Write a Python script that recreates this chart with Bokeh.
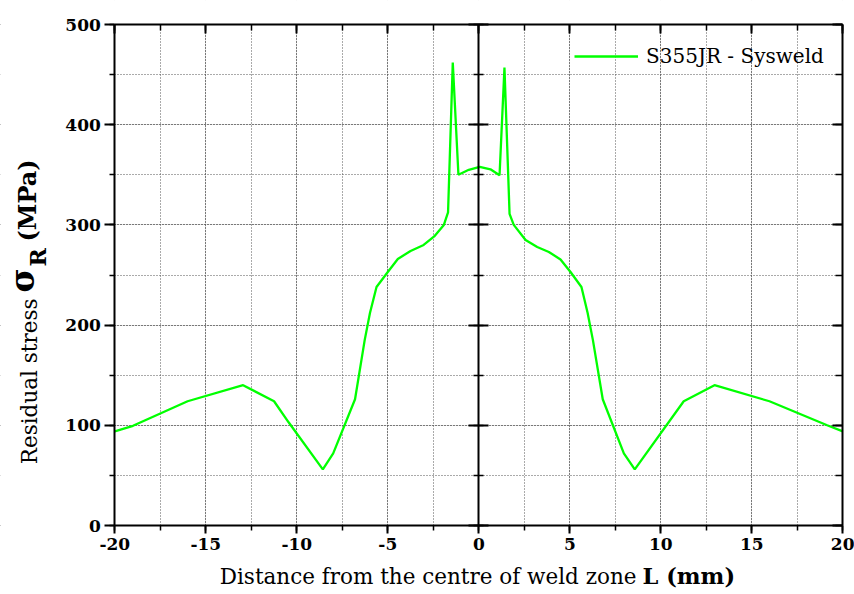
from bokeh.plotting import figure
from bokeh.models import (Range1d, LinearAxis, SingleIntervalTicker, Label, Grid,
                          CustomJSTickFormatter, BoxAnnotation)
from bokeh.embed import file_html
from bokeh.resources import INLINE
import math

# ---- data ----
distance_mm = [-20, -19, -16, -12.95, -11.25, -10.45, -8.57, -8.0, -6.8, -6.27,
               -5.98, -5.62, -5.0, -4.45, -3.75, -3.03, -2.45, -1.92, -1.69, -1.43,
               -1.12, -0.55, 0.05, 0.64, 1.14, 1.41, 1.69, 1.92, 2.57, 3.21,
               3.85, 4.49, 5.04, 5.64, 5.98, 6.27, 6.81, 7.97, 8.57, 11.26,
               12.95, 15.97, 19.14, 20]
stress_mpa = [94, 99.5, 124, 140, 124, 103, 56, 72, 126, 185,
              212, 238, 253, 266, 274, 280, 288.5, 300, 312.5, 462,
              350, 355, 358, 355.5, 349.5, 457, 311, 300, 285, 278,
              273, 265.5, 253, 238, 212, 185, 126, 72, 56, 124,
              140, 124, 100, 94]
x_limits = (-20, 20)
y_limits = (0, 500)
series_name = "S355JR - Sysweld"
x_label_normal = "Distance from the centre of weld zone"
x_label_bold = "L (mm)"
y_label_normal = "Residual stress"
y_label_sigma = "\u03c3"
y_label_sub = "R"
y_label_unit = "(MPa)"

SERIF = "DejaVu Serif"
W, H = 854, 594
# where the data box sits in the picture (pixels)
PX0, PX1 = 114.3, 842.3      # x = -20 .. 20
PY0, PY1 = 525.0, 24.0       # y = 0 .. 500

kx = (PX1 - PX0) / (x_limits[1] - x_limits[0])
ky = (PY0 - PY1) / (y_limits[1] - y_limits[0])

def dx(px):
    return x_limits[0] + (px - PX0) / kx

def dy(py):
    return y_limits[0] + (PY0 - py) / ky

p = figure(width=W, height=H, output_backend="svg", toolbar_location=None,
           x_range=Range1d(dx(0), dx(W)), y_range=Range1d(dy(H), dy(0)),
           min_border=0, x_axis_location=None, y_axis_location=None)
p.background_fill_color = "white"
p.border_fill_color = "white"
p.outline_line_color = None

xt = SingleIntervalTicker(interval=5, num_minor_ticks=2)
yt = SingleIntervalTicker(interval=100, num_minor_ticks=2)
plain_fmt = CustomJSTickFormatter(code="return String(tick);")
empty_fmt = CustomJSTickFormatter(code="return '';")

# dotted grid at major and minor ticks, inside the data box only
gx = Grid(dimension=0, ticker=xt, bounds=x_limits)
gy = Grid(dimension=1, ticker=yt, bounds=y_limits)
for g in (gx, gy):
    g.grid_line_color = "#555555"
    g.grid_line_dash = "1 2"
    g.grid_line_width = 1
    g.minor_grid_line_color = "#555555"
    g.minor_grid_line_dash = "1 2"
    g.minor_grid_line_width = 1
    p.add_layout(g)

# white masks outside the data box (hide grid overflow)
for kw in (dict(right=x_limits[0]), dict(left=x_limits[1]),
           dict(top=y_limits[0]), dict(bottom=y_limits[1])):
    p.add_layout(BoxAnnotation(fill_color="white", fill_alpha=1.0, line_color=None,
                               level="underlay", **kw))

def make_axis(ticker, show_labels, tin, tout, min_in, min_out, **kw):
    ax = LinearAxis(ticker=ticker, **kw)
    ax.axis_line_width = 2
    ax.axis_line_color = "black"
    ax.major_tick_line_width = 2
    ax.minor_tick_line_width = 1.5
    ax.major_tick_in = tin
    ax.major_tick_out = tout
    ax.minor_tick_in = min_in
    ax.minor_tick_out = min_out
    if show_labels:
        ax.formatter = plain_fmt
        ax.major_label_text_font = SERIF
        ax.major_label_text_font_style = "bold"
        ax.major_label_text_font_size = "17px"
        ax.major_label_text_color = "black"
        ax.major_label_standoff = 4
    else:
        ax.formatter = empty_fmt
        ax.major_label_standoff = 0
    return ax

bottom = make_axis(xt, True, 0, 8, 0, 5, fixed_location=y_limits[0], bounds=x_limits)
left = make_axis(yt, True, 0, 10, 0, 5, fixed_location=x_limits[0], bounds=y_limits)
top = make_axis(xt, False, 9, 0, 6, 0, fixed_location=y_limits[1], bounds=x_limits)
right = make_axis(yt, False, 10, 0, 7, 0, fixed_location=x_limits[1], bounds=y_limits)
center = make_axis(yt, False, 10, 10, 5, 5, fixed_location=0, bounds=y_limits)

p.add_layout(bottom, "below")
p.add_layout(left, "left")
p.add_layout(top, "above")
p.add_layout(right, "right")
p.add_layout(center, "left")

p.line(distance_mm, stress_mpa, line_color="#00ff00", line_width=2.3,
       legend_label=series_name)

lg = p.legend[0]
lg.location = (574, H - 68)
lg.border_line_color = None
lg.background_fill_alpha = 0
lg.label_text_font = SERIF
lg.label_text_font_size = "20px"
lg.label_text_color = "black"
lg.glyph_width = 64
lg.label_standoff = 8
lg.margin = 0
lg.padding = 4

def lab(px, py, text, **kw):
    return Label(x=dx(px), y=dy(py), text=text, text_font=SERIF, text_color="black", **kw)

p.add_layout(lab(636, 588, x_label_normal, text_align="right", text_font_size="21.5px"))
p.add_layout(lab(642, 588, x_label_bold, text_align="left", text_font_style="bold",
                 text_font_size="22.5px"))

a = math.pi / 2
p.add_layout(lab(41, 298, y_label_normal, angle=a, text_align="right", text_font_size="21.5px"))
p.add_layout(lab(41, 292, y_label_sigma, angle=a, text_align="left", text_font_style="bold",
                 text_font_size="33px"))
p.add_layout(lab(50, 266, y_label_sub, angle=a, text_align="left", text_font_style="bold",
                 text_font_size="22px"))
p.add_layout(lab(41, 241, y_label_unit, angle=a, text_align="left", text_font_style="bold",
                 text_font_size="24px"))

open("out.html", "w").write(file_html(p, INLINE))
